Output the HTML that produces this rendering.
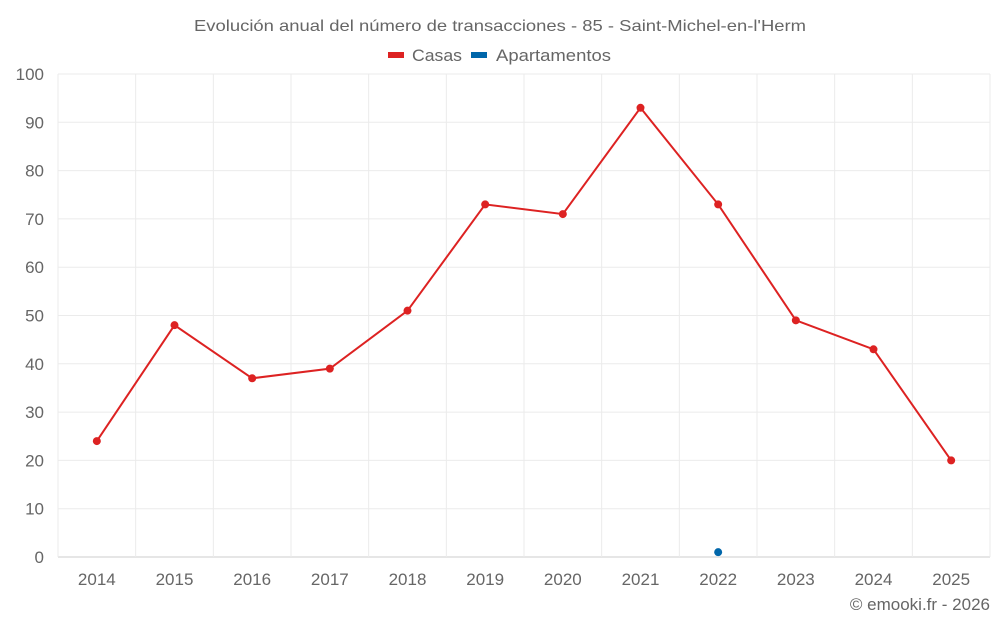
<!DOCTYPE html>
<html><head><meta charset="utf-8"><style>
body{margin:0;background:#fff;font-family:"Liberation Sans",sans-serif;}
svg text{font-family:"Liberation Sans",sans-serif;fill:#666;}
</style></head><body>
<svg id="chart" width="1000" height="625" xmlns="http://www.w3.org/2000/svg">
<text x="194" y="31" font-size="16" textLength="612" lengthAdjust="spacingAndGlyphs">Evolución anual del número de transacciones - 85 - Saint-Michel-en-l'Herm</text>
<g>
<g><rect x="388" y="52" width="16" height="6" fill="#dd2222"/><text x="412" y="61" font-size="17" textLength="50" lengthAdjust="spacingAndGlyphs">Casas</text></g>
<g><rect x="471" y="52" width="16" height="6" fill="#0066aa"/><text x="496" y="61" font-size="17" textLength="115" lengthAdjust="spacingAndGlyphs">Apartamentos</text></g>
</g>
<g id="grid"></g>
<g id="axes"></g>
<g id="series"></g>
<text x="990" y="610" text-anchor="end" font-size="17">© emooki.fr - 2026</text>
</svg>
<script>
const years=["2014","2015","2016","2017","2018","2019","2020","2021","2022","2023","2024","2025"];
const casas=[24,48,37,39,51,73,71,93,73,49,43,20];
const apartamentos=[null,null,null,null,null,null,null,null,1,null,null,null];
const yTicks=[0,10,20,30,40,50,60,70,80,90,100];
const L=58,R=990,T=74,B=557,yMax=100;
const bw=(R-L)/years.length;
const x=i=>L+bw*(i+0.5);
const y=v=>B-(v/yMax)*(B-T);
const NS="http://www.w3.org/2000/svg";
function mk(tag,attrs,parent,txt){const e=document.createElementNS(NS,tag);for(const k in attrs)e.setAttribute(k,attrs[k]);if(txt!==undefined)e.textContent=txt;parent.appendChild(e);return e;}
const grid=document.getElementById('grid'),axes=document.getElementById('axes'),ser=document.getElementById('series');
yTicks.forEach(t=>{
 const l=mk('line',{x1:L,x2:R,y1:y(t),y2:y(t),stroke:t===0?'#ccc':'#ebebeb','stroke-width':1},grid);
 
 
 const tx=mk('text',{x:L-14,y:y(t)+6,'text-anchor':'end','font-size':17},axes,t);
 
 
});
for(let i=0;i<=years.length;i++){
 const l=mk('line',{x1:L+bw*i,x2:L+bw*i,y1:T,y2:B,stroke:'#ebebeb','stroke-width':1},grid);
 
 
}
years.forEach((yr,i)=>{
 const tx=mk('text',{x:x(i),y:585,'text-anchor':'middle','font-size':17},axes,yr);
 
 
});
function draw(data,color,name){
 let d='';data.forEach((v,i)=>{if(v==null)return;d+=(d?'L':'M')+x(i)+','+y(v);});
 const p=mk('path',{d:d,fill:'none',stroke:color,'stroke-width':2},ser);
 
 
 data.forEach((v,i)=>{if(v==null)return;
  const c=mk('circle',{cx:x(i),cy:y(v),r:4,fill:color},ser);
  
  
 });
}
draw(casas,'#dd2222','casas');
draw(apartamentos,'#0066aa','apartamentos');
</script>
</body></html>
